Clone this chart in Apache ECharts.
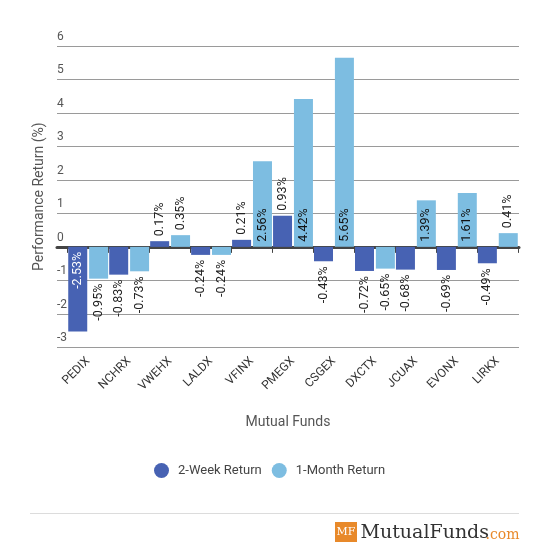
<!DOCTYPE html>
<html>
<head>
<meta charset="utf-8">
<script src="https://cdn.jsdelivr.net/npm/echarts@6/dist/echarts.min.js"></script>
<style>
html,body{margin:0;padding:0;background:#fff;}
#chart{width:550px;height:558px;}
</style>
</head>
<body>
<div id="chart"></div>
<script>
const funds = ['PEDIX','NCHRX','VWEHX','LALDX','VFINX','PMEGX','CSGEX','DXCTX','JCUAX','EVONX','LIRKX'];
const twoWeek = [-2.53,-0.83,0.17,-0.24,0.21,0.93,-0.43,-0.72,-0.68,-0.69,-0.49];
const oneMonth = [-0.95,-0.73,0.35,-0.24,2.56,4.42,5.65,-0.65,1.39,1.61,0.41];
const yTicks = [-3,-2,-1,0,1,2,3,4,5,6];
const seriesNames = ['2-Week Return','1-Month Return'];

const DARK = '#4762b3';
const LIGHT = '#7dbde1';
const FONT = 'Roboto';

function labelFor(v, insideColor) {
  const inside = Math.abs(v) >= 1.2;
  let position, align;
  if (v >= 0) {
    position = inside ? 'insideBottom' : 'top';
    align = 'left';
  } else {
    position = inside ? 'insideTop' : 'bottom';
    align = 'right';
  }
  return {
    show: true,
    position: position,
    rotate: 90,
    align: align,
    verticalAlign: 'middle',
    distance: 5,
    color: inside ? insideColor : '#222',
    fontSize: 12.5,
    fontFamily: FONT,
    formatter: (p) => p.value.toFixed(2) + '%'
  };
}

const chart = echarts.init(document.getElementById('chart'), null, {renderer: 'canvas'});
const TOP = 46, BOTTOM = 558 - 347.3;

chart.setOption({
  animation: false,
  backgroundColor: '#fff',
  textStyle: {fontFamily: FONT},
  grid: [
    {left: 57, right: 31, top: TOP, bottom: BOTTOM, containLabel: false},
    {left: 67.7, right: 31.7, top: TOP, bottom: BOTTOM, containLabel: false}
  ],
  xAxis: [
    {
      gridIndex: 0, type: 'category', data: [''],
      offset: 6,
      axisLine: {show: true, lineStyle: {color: '#444', width: 3}},
      axisTick: {show: false}, axisLabel: {show: false},
      splitLine: {show: false},
      name: 'Mutual Funds', nameLocation: 'middle', nameGap: 62,
      nameTextStyle: {fontSize: 14, color: '#555', fontFamily: FONT}
    },
    {
      gridIndex: 1, type: 'category', data: funds,
      offset: 6,
      axisLine: {show: false},
      axisTick: {show: true, length: 6, lineStyle: {color: '#444', width: 1}},
      axisLabel: {rotate: 45, interval: 0, margin: 6, color: '#333', fontSize: 12, fontFamily: FONT}
    }
  ],
  yAxis: [
    {
      gridIndex: 0, type: 'value', min: yTicks[0], max: yTicks[yTicks.length - 1], interval: 1,
      axisLine: {show: false}, axisTick: {show: false},
      axisLabel: {inside: true, verticalAlign: 'bottom', margin: 0, padding: [0, 0, 3, 0], color: '#555', fontSize: 12, fontFamily: FONT},
      splitLine: {show: true, lineStyle: {color: '#9a9a9a', width: 1}},
      name: 'Performance Return (%)', nameLocation: 'middle', nameGap: 1, nameRotate: 90,
      nameTextStyle: {fontSize: 14, color: '#555', fontFamily: FONT}
    },
    {
      gridIndex: 1, type: 'value', min: yTicks[0], max: yTicks[yTicks.length - 1], interval: 1,
      show: false, splitLine: {show: false}
    }
  ],
  legend: {
    data: seriesNames,
    left: 154, top: 463, padding: 0,
    icon: 'circle', itemWidth: 15, itemHeight: 15, itemGap: 10,
    textStyle: {fontSize: 13, color: '#444', fontFamily: FONT, padding: [0, 0, 0, 4]}
  },
  series: [
    {
      name: seriesNames[0], type: 'bar', xAxisIndex: 1, yAxisIndex: 1,
      barWidth: 19, barGap: '10%',
      itemStyle: {color: DARK},
      data: twoWeek.map(v => ({value: v, label: labelFor(v, '#fff')}))
    },
    {
      name: seriesNames[1], type: 'bar', xAxisIndex: 1, yAxisIndex: 1,
      barWidth: 19, barGap: '10%',
      itemStyle: {color: LIGHT},
      data: oneMonth.map(v => ({value: v, label: labelFor(v, '#111')}))
    }
  ],
  graphic: [
    {type: 'line', shape: {x1: 30, y1: 513.5, x2: 519, y2: 513.5}, style: {stroke: '#dcdcdc', lineWidth: 1}},
    {type: 'rect', shape: {x: 335, y: 522, width: 22, height: 20}, style: {fill: '#e8892a'}},
    {type: 'text', x: 346, y: 532.5, style: {text: 'MF', fill: '#fff', font: '11px "DejaVu Serif"', align: 'center', verticalAlign: 'middle'}},
    {type: 'text', x: 360.5, y: 543, style: {text: 'MutualFunds', fill: '#333', font: '19px "DejaVu Serif"', align: 'left', verticalAlign: 'bottom'}},
    {type: 'text', x: 519.5, y: 542.5, style: {text: '.com', fill: '#e8892a', font: '14px "DejaVu Serif"', align: 'right', verticalAlign: 'bottom'}}
  ]
});
</script>
</body>
</html>
